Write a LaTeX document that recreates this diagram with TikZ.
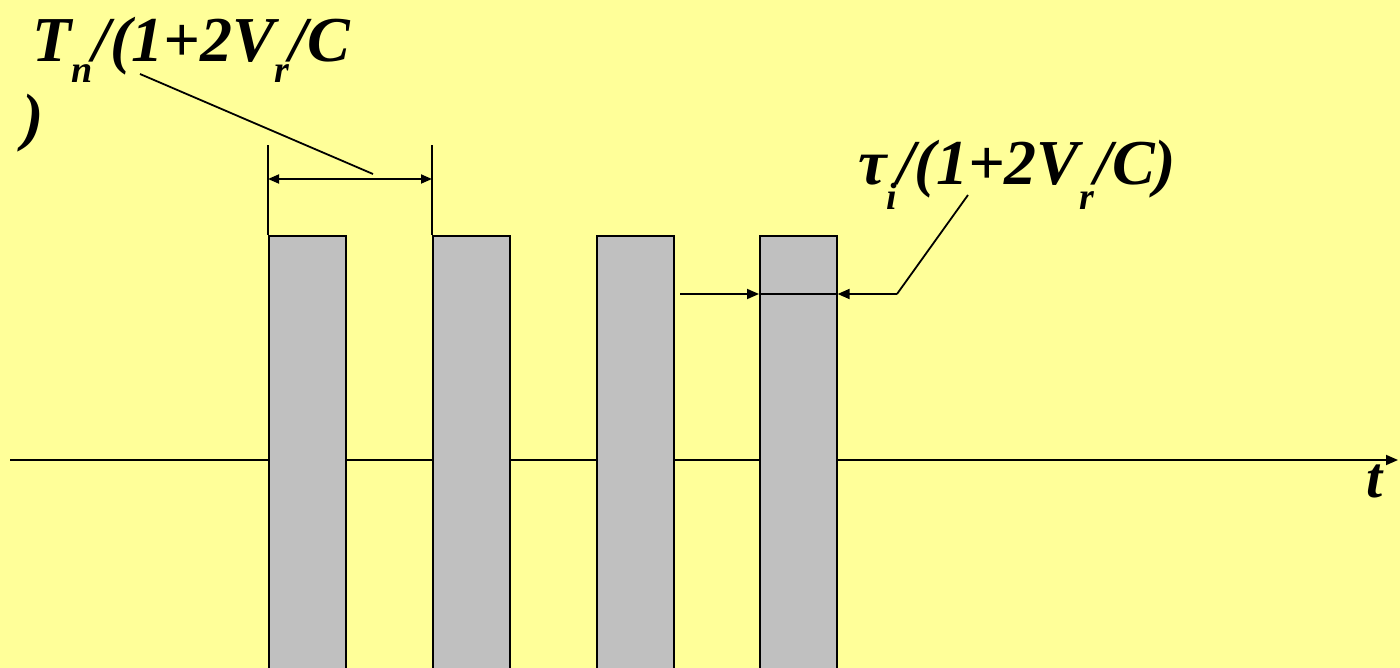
\documentclass[tikz,border=0pt]{standalone}
\usepackage{fontspec}
\setmainfont{Liberation Serif}
\usetikzlibrary{arrows.meta}
\definecolor{bgyellow}{RGB}{255,255,153}
\definecolor{bargray}{RGB}{192,192,192}
\newcommand{\lowsub}[3]{\raisebox{-#2pt}{\fontsize{#1}{#1}\selectfont #3}}
\begin{document}
\begin{tikzpicture}[x=1pt,y=-1pt,
  bar/.style={draw=black,line width=1.6pt,fill=bargray,rectangle,minimum width=77pt,minimum height=460pt,anchor=north west,inner sep=0pt},
  ln/.style={line width=1.8pt,draw=black},
  tip/.style={-{Triangle[length=12pt,width=10pt]}},
  lbl/.style={inner sep=0pt,font=\bfseries\itshape}]
\fill[bgyellow] (0,0) rectangle (1400,668);
\useasboundingbox (0,0) rectangle (1400,668);
\clip (0,0) rectangle (1400,668);
% axis
\coordinate (ax0) at (10,460);
\coordinate (ax1) at (1398,460);
\draw[ln,tip] (ax0) -- (ax1);
\node[lbl,anchor=base west] (t) at (1366,497) {\fontsize{58}{60}\selectfont t};
% bars
\node[bar] (b1) at (268,235) {};
\node[bar] (b2) at (432,235) {};
\node[bar] (b3) at (596,235) {};
\node[bar] (b4) at (759,235) {};
% dimension Tn
\coordinate (d1) at (268,145);
\coordinate (d2) at (432,145);
\draw[ln] (b1.north west) -- (d1);
\draw[ln] (b2.north west) -- (d2);
\draw[ln,{Triangle[length=11pt,width=9pt]}-{Triangle[length=11pt,width=9pt]}] (268,179) -- (432,179);
\node[lbl,anchor=base west] (lab1) at (32,62) {\fontsize{64}{66}\selectfont T\lowsub{38}{21}{n}/(1+2V\lowsub{38}{21}{r}/C};
\node[lbl,anchor=base west] (lab1b) at (22,139) {\fontsize{64}{66}\selectfont )};
\coordinate (l1a) at (140,74);
\coordinate (l1b) at (373,174);
\draw[ln] (l1a) -- (l1b);
% tau
\coordinate (a1) at (680,294);
\coordinate (a2) at (897,294);
\coordinate (a3) at (968,195);
\draw[ln,tip] (a1) -- (b4.west |- a1);
\draw[ln] (b4.west |- a1) -- (b4.east |- a1);
\draw[ln,tip] (a2) -- (b4.east |- a2);
\draw[ln] (a2) -- (a3);
\node[lbl,anchor=base west] (lab2) at (858,185) {\fontsize{64}{66}\selectfont τ\lowsub{38}{25}{i}/(1+2V\lowsub{38}{25}{r}/C)};
\end{tikzpicture}
\end{document}
